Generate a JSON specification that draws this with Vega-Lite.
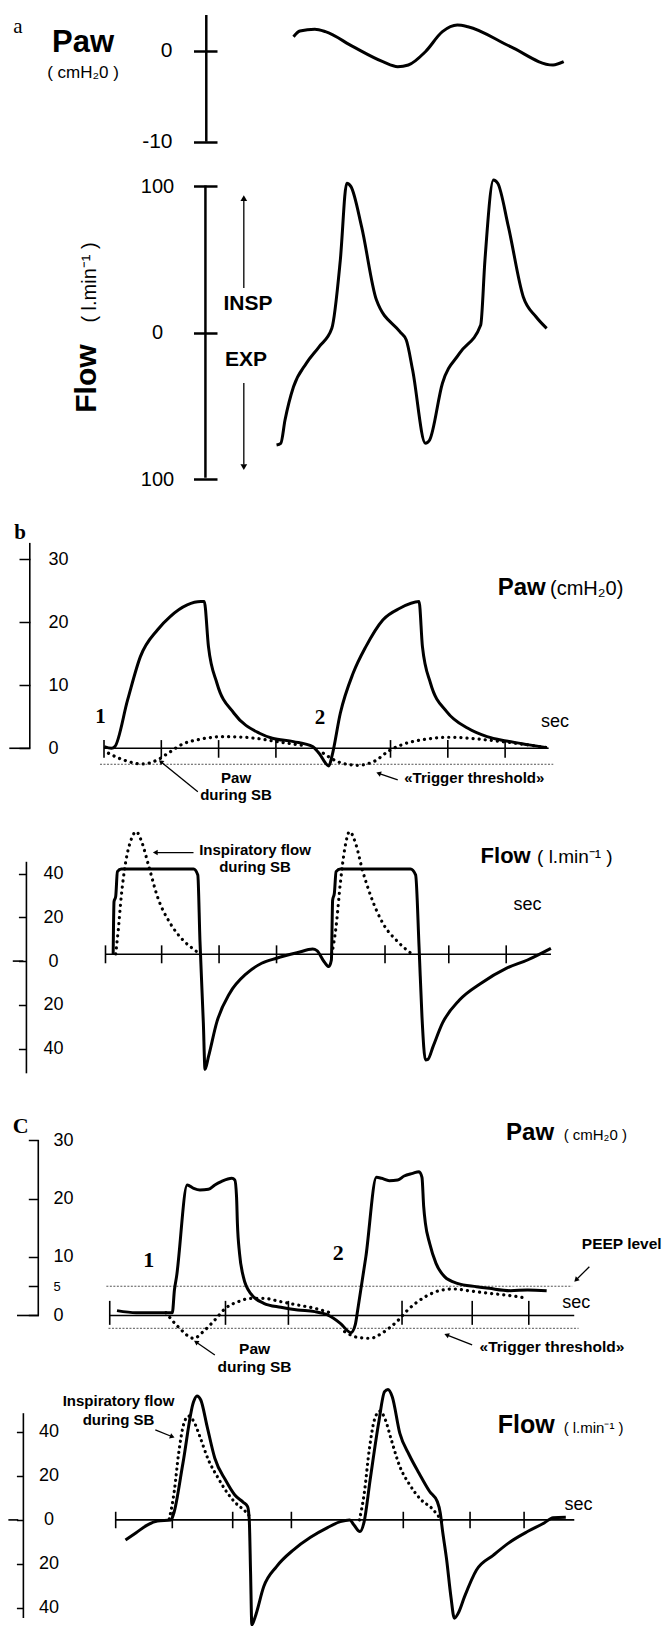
{
"$schema": "https://vega.github.io/schema/vega-lite/v6.json",
"background": "white",
"padding": 0,
"spacing": 0,
"bounds": "flush",
"resolve": {"scale": {"x": "independent", "y": "independent"}},
"config": {
 "view": {"stroke": null},
 "font": "Liberation Sans",
 "axis": {"domain": false, "grid": false, "ticks": true, "tickColor": "black", "labelColor": "black", "labelFont": "Liberation Sans", "labelOverlap": false, "labelFlush": false, "labelBound": false, "labelBaseline": "middle"},
 "text": {"color": "black", "font": "Liberation Sans"}
},
"datasets": {
"c": [
{"p":"a1","s":"s","g":1,"t":3.307,"v":1.54},{"p":"a1","s":"s","g":1,"t":3.419,"v":2.16},{"p":"a1","s":"s","g":1,"t":3.679,"v":2.35},{"p":"a1","s":"s","g":1,"t":3.864,"v":2.09},{"p":"a1","s":"s","g":1,"t":4.347,"v":0.44},{"p":"a1","s":"s","g":1,"t":4.866,"v":-1.21},{"p":"a1","s":"s","g":1,"t":5.126,"v":-1.76},{"p":"a1","s":"s","g":1,"t":5.312,"v":-1.57},{"p":"a1","s":"s","g":1,"t":5.609,"v":-0.11},{"p":"a1","s":"s","g":1,"t":5.906,"v":2.09},{"p":"a1","s":"s","g":1,"t":6.166,"v":2.82},{"p":"a1","s":"s","g":1,"t":6.351,"v":2.64},{"p":"a1","s":"s","g":1,"t":7.094,"v":0.44},{"p":"a1","s":"s","g":1,"t":7.836,"v":-1.57},{"p":"a1","s":"s","g":1,"t":8.022,"v":-1.21},
{"p":"a2","s":"s","g":1,"t":3.011,"v":-76.7},{"p":"a2","s":"s","g":1,"t":3.085,"v":-75.5},{"p":"a2","s":"s","g":1,"t":3.159,"v":-59.6},{"p":"a2","s":"s","g":1,"t":3.307,"v":-36.9},{"p":"a2","s":"s","g":1,"t":3.53,"v":-20.9},{"p":"a2","s":"s","g":1,"t":3.753,"v":-9.6},{"p":"a2","s":"s","g":1,"t":3.976,"v":3.0},{"p":"a2","s":"s","g":1,"t":4.124,"v":49.6},{"p":"a2","s":"s","g":1,"t":4.236,"v":102},{"p":"a2","s":"s","g":1,"t":4.31,"v":99.7},{"p":"a2","s":"s","g":1,"t":4.495,"v":72.4},{"p":"a2","s":"s","g":1,"t":4.755,"v":22.3},{"p":"a2","s":"s","g":1,"t":5.163,"v":0.7},{"p":"a2","s":"s","g":1,"t":5.275,"v":-5.0},{"p":"a2","s":"s","g":1,"t":5.386,"v":-25.5},{"p":"a2","s":"s","g":1,"t":5.609,"v":-75.5},{"p":"a2","s":"s","g":1,"t":5.683,"v":-73.2},{"p":"a2","s":"s","g":1,"t":5.906,"v":-34.5},{"p":"a2","s":"s","g":1,"t":6.203,"v":-14.1},{"p":"a2","s":"s","g":1,"t":6.574,"v":5.3},{"p":"a2","s":"s","g":1,"t":6.648,"v":49.6},{"p":"a2","s":"s","g":1,"t":6.797,"v":104.2},{"p":"a2","s":"s","g":1,"t":6.871,"v":102},{"p":"a2","s":"s","g":1,"t":7.057,"v":72.4},{"p":"a2","s":"s","g":1,"t":7.316,"v":24.6},{"p":"a2","s":"s","g":1,"t":7.539,"v":10.9},{"p":"a2","s":"s","g":1,"t":7.725,"v":3.0},
{"p":"b1","s":"s","g":1,"t":0.004,"v":0.26},{"p":"b1","s":"s","g":1,"t":0.13,"v":0},{"p":"b1","s":"s","g":1,"t":0.189,"v":0.26},{"p":"b1","s":"s","g":1,"t":0.412,"v":7.67},{"p":"b1","s":"s","g":1,"t":0.635,"v":14.55},{"p":"b1","s":"s","g":1,"t":0.932,"v":18.78},{"p":"b1","s":"s","g":1,"t":1.155,"v":20.9},{"p":"b1","s":"s","g":1,"t":1.452,"v":22.75},{"p":"b1","s":"s","g":1,"t":1.689,"v":23.28},{"p":"b1","s":"s","g":1,"t":1.749,"v":23.28},{"p":"b1","s":"s","g":1,"t":1.823,"v":16.14},{"p":"b1","s":"s","g":1,"t":1.971,"v":10.32},{"p":"b1","s":"s","g":1,"t":2.268,"v":5.56},{"p":"b1","s":"s","g":1,"t":2.714,"v":2.38},{"p":"b1","s":"s","g":1,"t":2.936,"v":1.59},{"p":"b1","s":"s","g":1,"t":3.307,"v":1.06},{"p":"b1","s":"s","g":1,"t":3.642,"v":0.26},{"p":"b1","s":"s","g":1,"t":3.753,"v":-0.79},{"p":"b1","s":"s","g":1,"t":3.924,"v":-2.8},{"p":"b1","s":"s","g":1,"t":3.976,"v":-1.32},{"p":"b1","s":"s","g":1,"t":4.124,"v":5.56},{"p":"b1","s":"s","g":1,"t":4.347,"v":11.9},{"p":"b1","s":"s","g":1,"t":4.57,"v":16.14},{"p":"b1","s":"s","g":1,"t":4.866,"v":20.37},{"p":"b1","s":"s","g":1,"t":5.163,"v":22.22},{"p":"b1","s":"s","g":1,"t":5.498,"v":23.28},{"p":"b1","s":"s","g":1,"t":5.557,"v":16.14},{"p":"b1","s":"s","g":1,"t":5.698,"v":10.32},{"p":"b1","s":"s","g":1,"t":5.98,"v":5.82},{"p":"b1","s":"s","g":1,"t":6.351,"v":3.17},{"p":"b1","s":"s","g":1,"t":6.685,"v":1.85},{"p":"b1","s":"s","g":1,"t":7.019,"v":1.16},{"p":"b1","s":"s","g":1,"t":7.391,"v":0.58},{"p":"b1","s":"s","g":1,"t":7.725,"v":0.11},
{"p":"b1","s":"d","g":1,"t":0.078,"v":-0.79},{"p":"b1","s":"d","g":1,"t":0.338,"v":-1.85},{"p":"b1","s":"d","g":1,"t":0.672,"v":-2.49},{"p":"b1","s":"d","g":1,"t":0.932,"v":-1.85},{"p":"b1","s":"d","g":1,"t":1.117,"v":-0.79},{"p":"b1","s":"d","g":1,"t":1.377,"v":0.69},{"p":"b1","s":"d","g":1,"t":1.674,"v":1.43},{"p":"b1","s":"d","g":1,"t":2.12,"v":1.85},{"p":"b1","s":"d","g":1,"t":2.639,"v":1.59},{"p":"b1","s":"d","g":1,"t":3.011,"v":1.06},{"p":"b1","s":"d","g":1,"t":3.53,"v":0.37},
{"p":"b1","s":"d","g":2,"t":3.827,"v":-0.79},{"p":"b1","s":"d","g":2,"t":4.124,"v":-2.28},{"p":"b1","s":"d","g":2,"t":4.421,"v":-2.7},{"p":"b1","s":"d","g":2,"t":4.718,"v":-2.06},{"p":"b1","s":"d","g":2,"t":4.978,"v":-0.37},{"p":"b1","s":"d","g":2,"t":5.238,"v":0.69},{"p":"b1","s":"d","g":2,"t":5.609,"v":1.43},{"p":"b1","s":"d","g":2,"t":6.054,"v":1.75},{"p":"b1","s":"d","g":2,"t":6.5,"v":1.48},{"p":"b1","s":"d","g":2,"t":6.945,"v":1.06},{"p":"b1","s":"d","g":2,"t":7.725,"v":0.11},
{"p":"b2","s":"s","g":1,"t":0.16,"v":3.09},{"p":"b2","s":"s","g":1,"t":0.175,"v":27.2},{"p":"b2","s":"s","g":1,"t":0.204,"v":29.5},{"p":"b2","s":"s","g":1,"t":0.234,"v":40.9},{"p":"b2","s":"s","g":1,"t":0.301,"v":42.1},{"p":"b2","s":"s","g":1,"t":1.563,"v":42.1},{"p":"b2","s":"s","g":1,"t":1.637,"v":39.4},{"p":"b2","s":"s","g":1,"t":1.674,"v":9.6},{"p":"b2","s":"s","g":1,"t":1.734,"v":-28.5},{"p":"b2","s":"s","g":1,"t":1.763,"v":-49.5},{"p":"b2","s":"s","g":1,"t":1.823,"v":-43.7},{"p":"b2","s":"s","g":1,"t":1.971,"v":-27.7},{"p":"b2","s":"s","g":1,"t":2.194,"v":-14.7},{"p":"b2","s":"s","g":1,"t":2.491,"v":-5.6},{"p":"b2","s":"s","g":1,"t":2.751,"v":-1.0},{"p":"b2","s":"s","g":1,"t":3.011,"v":1.3},{"p":"b2","s":"s","g":1,"t":3.382,"v":3.9},{"p":"b2","s":"s","g":1,"t":3.642,"v":5.5},{"p":"b2","s":"s","g":1,"t":3.716,"v":4.8},{"p":"b2","s":"s","g":1,"t":3.842,"v":-0.3},{"p":"b2","s":"s","g":1,"t":3.924,"v":-2.5},{"p":"b2","s":"s","g":1,"t":3.968,"v":0.5},{"p":"b2","s":"s","g":1,"t":3.99,"v":27.9},{"p":"b2","s":"s","g":1,"t":4.02,"v":31.0},{"p":"b2","s":"s","g":1,"t":4.05,"v":40.9},{"p":"b2","s":"s","g":1,"t":4.124,"v":42.1},{"p":"b2","s":"s","g":1,"t":5.349,"v":42.1},{"p":"b2","s":"s","g":1,"t":5.438,"v":39.4},{"p":"b2","s":"s","g":1,"t":5.498,"v":6.6},{"p":"b2","s":"s","g":1,"t":5.549,"v":-25.4},{"p":"b2","s":"s","g":1,"t":5.609,"v":-45.2},{"p":"b2","s":"s","g":1,"t":5.653,"v":-44.9},{"p":"b2","s":"s","g":1,"t":5.742,"v":-39.1},{"p":"b2","s":"s","g":1,"t":5.906,"v":-28.4},{"p":"b2","s":"s","g":1,"t":6.203,"v":-17.8},{"p":"b2","s":"s","g":1,"t":6.574,"v":-10.2},{"p":"b2","s":"s","g":1,"t":7.019,"v":-3.3},{"p":"b2","s":"s","g":1,"t":7.391,"v":0.5},{"p":"b2","s":"s","g":1,"t":7.799,"v":5.8},
{"p":"b2","s":"d","g":1,"t":0.204,"v":3.25},{"p":"b2","s":"d","g":1,"t":0.249,"v":14.2},{"p":"b2","s":"d","g":1,"t":0.301,"v":29.5},{"p":"b2","s":"d","g":1,"t":0.375,"v":44.7},{"p":"b2","s":"d","g":1,"t":0.472,"v":55.4},{"p":"b2","s":"d","g":1,"t":0.561,"v":59.2},{"p":"b2","s":"d","g":1,"t":0.657,"v":54.6},{"p":"b2","s":"d","g":1,"t":0.783,"v":43.2},{"p":"b2","s":"d","g":1,"t":0.932,"v":29.5},{"p":"b2","s":"d","g":1,"t":1.155,"v":17.3},{"p":"b2","s":"d","g":1,"t":1.377,"v":9.65},{"p":"b2","s":"d","g":1,"t":1.563,"v":5.4},{"p":"b2","s":"d","g":1,"t":1.674,"v":3.25},
{"p":"b2","s":"d","g":2,"t":3.976,"v":3.25},{"p":"b2","s":"d","g":2,"t":4.05,"v":15.7},{"p":"b2","s":"d","g":2,"t":4.124,"v":35.5},{"p":"b2","s":"d","g":2,"t":4.198,"v":50.8},{"p":"b2","s":"d","g":2,"t":4.287,"v":59.2},{"p":"b2","s":"d","g":2,"t":4.391,"v":53.8},{"p":"b2","s":"d","g":2,"t":4.51,"v":41.6},{"p":"b2","s":"d","g":2,"t":4.659,"v":29.5},{"p":"b2","s":"d","g":2,"t":4.866,"v":17.3},{"p":"b2","s":"d","g":2,"t":5.126,"v":8.9},{"p":"b2","s":"d","g":2,"t":5.371,"v":3.25},
{"p":"c1","s":"s","g":1,"t":0.227,"v":0.83},{"p":"c1","s":"s","g":1,"t":0.561,"v":0.48},{"p":"c1","s":"s","g":1,"t":1.192,"v":0.48},{"p":"c1","s":"s","g":1,"t":1.229,"v":4.36},{"p":"c1","s":"s","g":1,"t":1.266,"v":6.64},{"p":"c1","s":"s","g":1,"t":1.452,"v":22.31},{"p":"c1","s":"s","g":1,"t":1.563,"v":21.74},{"p":"c1","s":"s","g":1,"t":1.674,"v":21.45},{"p":"c1","s":"s","g":1,"t":1.823,"v":21.57},{"p":"c1","s":"s","g":1,"t":1.934,"v":22.31},{"p":"c1","s":"s","g":1,"t":2.045,"v":22.88},{"p":"c1","s":"s","g":1,"t":2.231,"v":23.45},{"p":"c1","s":"s","g":1,"t":2.283,"v":23.16},{"p":"c1","s":"s","g":1,"t":2.313,"v":20.31},{"p":"c1","s":"s","g":1,"t":2.328,"v":15.75},{"p":"c1","s":"s","g":1,"t":2.365,"v":10.63},{"p":"c1","s":"s","g":1,"t":2.431,"v":6.64},{"p":"c1","s":"s","g":1,"t":2.565,"v":3.68},{"p":"c1","s":"s","g":1,"t":2.788,"v":2.08},{"p":"c1","s":"s","g":1,"t":3.085,"v":1.4},{"p":"c1","s":"s","g":1,"t":3.382,"v":0.94},{"p":"c1","s":"s","g":1,"t":3.679,"v":0.66},{"p":"c1","s":"s","g":1,"t":3.901,"v":0.09},{"p":"c1","s":"s","g":1,"t":4.124,"v":-1.34},{"p":"c1","s":"s","g":1,"t":4.31,"v":-2.93},{"p":"c1","s":"s","g":1,"t":4.384,"v":-1.62},{"p":"c1","s":"s","g":1,"t":4.436,"v":1.51},{"p":"c1","s":"s","g":1,"t":4.57,"v":10.06},{"p":"c1","s":"s","g":1,"t":4.755,"v":23.62},{"p":"c1","s":"s","g":1,"t":4.844,"v":23.45},{"p":"c1","s":"s","g":1,"t":4.978,"v":23.05},{"p":"c1","s":"s","g":1,"t":5.126,"v":23.16},{"p":"c1","s":"s","g":1,"t":5.238,"v":23.85},{"p":"c1","s":"s","g":1,"t":5.386,"v":24.3},{"p":"c1","s":"s","g":1,"t":5.498,"v":24.59},{"p":"c1","s":"s","g":1,"t":5.549,"v":23.62},{"p":"c1","s":"s","g":1,"t":5.579,"v":18.6},{"p":"c1","s":"s","g":1,"t":5.609,"v":15.75},{"p":"c1","s":"s","g":1,"t":5.683,"v":12.34},{"p":"c1","s":"s","g":1,"t":5.794,"v":8.92},{"p":"c1","s":"s","g":1,"t":5.943,"v":6.64},{"p":"c1","s":"s","g":1,"t":6.166,"v":5.5},{"p":"c1","s":"s","g":1,"t":6.5,"v":4.93},{"p":"c1","s":"s","g":1,"t":6.722,"v":4.64},{"p":"c1","s":"s","g":1,"t":7.094,"v":4.25},{"p":"c1","s":"s","g":1,"t":7.391,"v":4.36},{"p":"c1","s":"s","g":1,"t":7.725,"v":4.25},
{"p":"c1","s":"d","g":1,"t":1.08,"v":0.48},{"p":"c1","s":"d","g":1,"t":1.303,"v":-2.02},{"p":"c1","s":"d","g":1,"t":1.563,"v":-3.9},{"p":"c1","s":"d","g":1,"t":1.749,"v":-2.59},{"p":"c1","s":"d","g":1,"t":1.934,"v":-0.77},{"p":"c1","s":"d","g":1,"t":2.12,"v":1.23},{"p":"c1","s":"d","g":1,"t":2.342,"v":2.36},{"p":"c1","s":"d","g":1,"t":2.565,"v":2.93},{"p":"c1","s":"d","g":1,"t":2.788,"v":2.93},{"p":"c1","s":"d","g":1,"t":3.085,"v":2.36},{"p":"c1","s":"d","g":1,"t":3.382,"v":1.79},{"p":"c1","s":"d","g":1,"t":3.679,"v":1.23},{"p":"c1","s":"d","g":1,"t":3.939,"v":0.48},
{"p":"c1","s":"d","g":2,"t":4.199,"v":-2.76},{"p":"c1","s":"d","g":2,"t":4.421,"v":-3.73},{"p":"c1","s":"d","g":2,"t":4.644,"v":-3.9},{"p":"c1","s":"d","g":2,"t":4.866,"v":-2.93},{"p":"c1","s":"d","g":2,"t":5.126,"v":-0.88},{"p":"c1","s":"d","g":2,"t":5.312,"v":1.05},{"p":"c1","s":"d","g":2,"t":5.609,"v":3.22},{"p":"c1","s":"d","g":2,"t":5.906,"v":4.36},{"p":"c1","s":"d","g":2,"t":6.129,"v":4.53},{"p":"c1","s":"d","g":2,"t":6.351,"v":4.25},{"p":"c1","s":"d","g":2,"t":6.722,"v":3.79},{"p":"c1","s":"d","g":2,"t":7.094,"v":3.39},{"p":"c1","s":"d","g":2,"t":7.391,"v":2.93},
{"p":"c2","s":"s","g":1,"t":0.375,"v":-9.14},{"p":"c2","s":"s","g":1,"t":0.561,"v":-5.8},{"p":"c2","s":"s","g":1,"t":0.746,"v":-2.47},{"p":"c2","s":"s","g":1,"t":0.932,"v":-0.5},{"p":"c2","s":"s","g":1,"t":1.169,"v":-0.05},{"p":"c2","s":"s","g":1,"t":1.214,"v":2.7},{"p":"c2","s":"s","g":1,"t":1.377,"v":25.7},{"p":"c2","s":"s","g":1,"t":1.563,"v":53.7},{"p":"c2","s":"s","g":1,"t":1.622,"v":56.3},{"p":"c2","s":"s","g":1,"t":1.689,"v":54.5},{"p":"c2","s":"s","g":1,"t":1.8,"v":42.4},{"p":"c2","s":"s","g":1,"t":1.934,"v":28.0},{"p":"c2","s":"s","g":1,"t":2.12,"v":18.1},{"p":"c2","s":"s","g":1,"t":2.283,"v":11.3},{"p":"c2","s":"s","g":1,"t":2.431,"v":8.0},{"p":"c2","s":"s","g":1,"t":2.506,"v":6.0},{"p":"c2","s":"s","g":1,"t":2.535,"v":0},{"p":"c2","s":"s","g":1,"t":2.558,"v":-24.2},{"p":"c2","s":"s","g":1,"t":2.58,"v":-47.7},{"p":"c2","s":"s","g":1,"t":2.639,"v":-44.0},{"p":"c2","s":"s","g":1,"t":2.788,"v":-30.3},{"p":"c2","s":"s","g":1,"t":3.011,"v":-21.2},{"p":"c2","s":"s","g":1,"t":3.307,"v":-13.6},{"p":"c2","s":"s","g":1,"t":3.604,"v":-7.9},{"p":"c2","s":"s","g":1,"t":3.901,"v":-3.5},{"p":"c2","s":"s","g":1,"t":4.124,"v":-0.8},{"p":"c2","s":"s","g":1,"t":4.287,"v":0},{"p":"c2","s":"s","g":1,"t":4.362,"v":-2.3},{"p":"c2","s":"s","g":1,"t":4.466,"v":-5.3},{"p":"c2","s":"s","g":1,"t":4.54,"v":-0.8},{"p":"c2","s":"s","g":1,"t":4.644,"v":18.1},{"p":"c2","s":"s","g":1,"t":4.792,"v":43.9},{"p":"c2","s":"s","g":1,"t":4.896,"v":58.3},{"p":"c2","s":"s","g":1,"t":4.956,"v":59.3},{"p":"c2","s":"s","g":1,"t":5.03,"v":56.0},{"p":"c2","s":"s","g":1,"t":5.163,"v":39.3},{"p":"c2","s":"s","g":1,"t":5.327,"v":29.5},{"p":"c2","s":"s","g":1,"t":5.498,"v":21.2},{"p":"c2","s":"s","g":1,"t":5.683,"v":12.9},{"p":"c2","s":"s","g":1,"t":5.817,"v":8.3},{"p":"c2","s":"s","g":1,"t":5.869,"v":3.0},{"p":"c2","s":"s","g":1,"t":5.906,"v":-4.6},{"p":"c2","s":"s","g":1,"t":5.98,"v":-18.2},{"p":"c2","s":"s","g":1,"t":6.054,"v":-34.9},{"p":"c2","s":"s","g":1,"t":6.114,"v":-44.7},{"p":"c2","s":"s","g":1,"t":6.188,"v":-42.1},{"p":"c2","s":"s","g":1,"t":6.292,"v":-34.9},{"p":"c2","s":"s","g":1,"t":6.5,"v":-22.8},{"p":"c2","s":"s","g":1,"t":6.797,"v":-16.0},{"p":"c2","s":"s","g":1,"t":7.094,"v":-9.9},{"p":"c2","s":"s","g":1,"t":7.391,"v":-5.3},{"p":"c2","s":"s","g":1,"t":7.688,"v":-1.3},{"p":"c2","s":"s","g":1,"t":7.836,"v":1.0},{"p":"c2","s":"s","g":1,"t":8.059,"v":1.2},
{"p":"c2","s":"d","g":1,"t":1.14,"v":0.4},{"p":"c2","s":"d","g":1,"t":1.229,"v":13.6},{"p":"c2","s":"d","g":1,"t":1.303,"v":30.3},{"p":"c2","s":"d","g":1,"t":1.392,"v":43.6},{"p":"c2","s":"d","g":1,"t":1.474,"v":47.2},{"p":"c2","s":"d","g":1,"t":1.57,"v":44.6},{"p":"c2","s":"d","g":1,"t":1.674,"v":37.8},{"p":"c2","s":"d","g":1,"t":1.823,"v":27.2},{"p":"c2","s":"d","g":1,"t":1.986,"v":19.3},{"p":"c2","s":"d","g":1,"t":2.157,"v":12.1},{"p":"c2","s":"d","g":1,"t":2.305,"v":7.5},{"p":"c2","s":"d","g":1,"t":2.454,"v":4.2},{"p":"c2","s":"d","g":1,"t":2.58,"v":0.4},
{"p":"c2","s":"d","g":2,"t":4.458,"v":0},{"p":"c2","s":"d","g":2,"t":4.54,"v":11.8},{"p":"c2","s":"d","g":2,"t":4.629,"v":31.8},{"p":"c2","s":"d","g":2,"t":4.718,"v":45.4},{"p":"c2","s":"d","g":2,"t":4.815,"v":49.5},{"p":"c2","s":"d","g":2,"t":4.911,"v":45.4},{"p":"c2","s":"d","g":2,"t":5.015,"v":36.3},{"p":"c2","s":"d","g":2,"t":5.163,"v":24.2},{"p":"c2","s":"d","g":2,"t":5.327,"v":16.3},{"p":"c2","s":"d","g":2,"t":5.535,"v":9.1},{"p":"c2","s":"d","g":2,"t":5.72,"v":5.3},{"p":"c2","s":"d","g":2,"t":5.906,"v":-0.8}
],
"r": [
{"p":"a1","k":"ax","t":1.785,"t2":1.785,"v":3.92,"v2":-10},
{"p":"a2","k":"ax","t":1.77,"t2":1.77,"v":100.5,"v2":-99},
{"p":"a2","k":"ar","t":2.44,"t2":2.44,"v":30.5,"v2":90},
{"p":"a2","k":"ar","t":2.44,"t2":2.44,"v":-34.3,"v2":-90},
{"p":"b1","k":"ax","t":-1.295,"t2":-1.295,"v":32.6,"v2":0},
{"p":"b1","k":"ax","t":-1.653,"t2":-1.291,"v":0,"v2":0},
{"p":"b1","k":"bs","t":0,"t2":7.76,"v":0,"v2":0},
{"p":"b1","k":"bs","t":0,"t2":0,"v":1.3,"v2":-1.5},{"p":"b1","k":"bs","t":1,"t2":1,"v":1.3,"v2":-1.5},{"p":"b1","k":"bs","t":2,"t2":2,"v":1.3,"v2":-1.5},{"p":"b1","k":"bs","t":3,"t2":3,"v":1.3,"v2":-1.5},{"p":"b1","k":"bs","t":5,"t2":5,"v":1.3,"v2":-1.5},{"p":"b1","k":"bs","t":6,"t2":6,"v":1.3,"v2":-1.5},{"p":"b1","k":"bs","t":7,"t2":7,"v":1.3,"v2":-1.5},
{"p":"b1","k":"th","t":-0.07,"t2":7.84,"v":-2.54,"v2":-2.54},
{"p":"b1","k":"ar","t":1.637,"t2":0.991,"v":-6.89,"v2":-2.13},
{"p":"b1","k":"ar","t":5.126,"t2":4.792,"v":-5.03,"v2":-3.97},
{"p":"b2","k":"ax","t":-1.354,"t2":-1.354,"v":45.4,"v2":-51.3},
{"p":"b2","k":"ax","t":-1.592,"t2":-1.407,"v":0,"v2":0},
{"p":"b2","k":"bs","t":0.026,"t2":7.8,"v":3.11,"v2":3.11},
{"p":"b2","k":"bs","t":0.026,"t2":0.026,"v":7.2,"v2":-1.0},{"p":"b2","k":"bs","t":1.006,"t2":1.006,"v":7.2,"v2":-1.0},{"p":"b2","k":"bs","t":2.008,"t2":2.008,"v":7.2,"v2":-1.0},{"p":"b2","k":"bs","t":3.011,"t2":3.011,"v":7.2,"v2":-1.0},{"p":"b2","k":"bs","t":4.904,"t2":4.904,"v":7.2,"v2":-1.0},{"p":"b2","k":"bs","t":6.017,"t2":6.017,"v":7.2,"v2":-1.0},{"p":"b2","k":"bs","t":7.019,"t2":7.019,"v":7.2,"v2":-1.0},
{"p":"b2","k":"ar","t":1.562,"t2":0.895,"v":49.6,"v2":49.6},
{"p":"c1","k":"ax","t":-1.147,"t2":-1.147,"v":30,"v2":0},
{"p":"c1","k":"ax","t":-1.518,"t2":-1.134,"v":0,"v2":0},
{"p":"c1","k":"bs","t":0.1,"t2":8.206,"v":0,"v2":0},
{"p":"c1","k":"bs","t":0.1,"t2":0.1,"v":2.5,"v2":-1.6},{"p":"c1","k":"bs","t":2.12,"t2":2.12,"v":2.5,"v2":-1.6},{"p":"c1","k":"bs","t":3.218,"t2":3.218,"v":2.5,"v2":-1.6},{"p":"c1","k":"bs","t":5.201,"t2":5.201,"v":2.5,"v2":-1.6},{"p":"c1","k":"bs","t":6.426,"t2":6.426,"v":2.5,"v2":-1.6},{"p":"c1","k":"bs","t":7.413,"t2":7.413,"v":2.5,"v2":-1.6},
{"p":"c1","k":"th","t":0.041,"t2":8.17,"v":5,"v2":5},
{"p":"c1","k":"th","t":0.078,"t2":8.282,"v":-2.19,"v2":-2.19},
{"p":"c1","k":"ar","t":1.934,"t2":1.606,"v":-6.75,"v2":-4.53},
{"p":"c1","k":"ar","t":6.424,"t2":5.979,"v":-5.04,"v2":-3.33},
{"p":"c1","k":"ar","t":8.47,"t2":8.237,"v":8.34,"v2":6.07},
{"p":"c2","k":"ax","t":-1.407,"t2":-1.407,"v":48.5,"v2":-44.6},
{"p":"c2","k":"ax","t":-1.669,"t2":-1.496,"v":0,"v2":0},
{"p":"c2","k":"bs","t":0.204,"t2":8.207,"v":0,"v2":0},
{"p":"c2","k":"bs","t":0.204,"t2":0.204,"v":3.7,"v2":-3.8},{"p":"c2","k":"bs","t":1.192,"t2":1.192,"v":3.7,"v2":-3.8},{"p":"c2","k":"bs","t":2.246,"t2":2.246,"v":3.7,"v2":-3.8},{"p":"c2","k":"bs","t":3.27,"t2":3.27,"v":3.7,"v2":-3.8},{"p":"c2","k":"bs","t":5.223,"t2":5.223,"v":3.7,"v2":-3.8},{"p":"c2","k":"bs","t":6.388,"t2":6.388,"v":3.7,"v2":-3.8},{"p":"c2","k":"bs","t":7.331,"t2":7.331,"v":3.7,"v2":-3.8},
{"p":"c2","k":"ar","t":0.895,"t2":1.192,"v":40.9,"v2":37.8}
],
"h": [
{"p":"a2","t":2.44,"v":91.9,"d":0},{"p":"a2","t":2.44,"v":-91.7,"d":180},
{"p":"b1","t":0.991,"v":-2.13,"d":309},{"p":"b1","t":4.792,"v":-3.97,"d":289.5},
{"p":"b2","t":0.895,"v":49.6,"d":270},
{"p":"c1","t":1.606,"v":-4.53,"d":304},{"p":"c1","t":5.979,"v":-3.33,"d":291},{"p":"c1","t":8.237,"v":6.07,"d":225},
{"p":"c2","t":1.192,"v":37.8,"d":111.5}
],
"x": [
{"p":"a1","k":"ser","t":-1.503,"v":2.64,"l":"a"},
{"p":"a1","k":"tit","t":-0.366,"v":-0.11,"l":"Paw"},
{"p":"a1","k":"uni","t":-0.366,"v":-2.45,"l":"( cmH₂0 )"},
{"p":"a2","k":"vt","t":-0.14,"v":-31.3,"l":"Flow"},
{"p":"a2","k":"vu","t":-0.14,"v":34.3,"l":"( l.min⁻¹ )"},
{"p":"a2","k":"big","t":2.513,"v":19.6,"l":"INSP"},
{"p":"a2","k":"big","t":2.478,"v":-18.6,"l":"EXP"},
{"p":"b1","k":"ser","t":-1.466,"v":34.2,"l":"b"},
{"p":"b1","k":"ser","t":-0.061,"v":4.97,"l":"1"},
{"p":"b1","k":"ser","t":3.768,"v":4.76,"l":"2"},
{"p":"b1","k":"tit","t":6.87,"v":24.3,"l":"Paw"},
{"p":"b1","k":"uni","t":7.784,"v":24.3,"l":"(cmH₂0)"},
{"p":"b1","k":"ann","t":2.304,"v":-4.76,"l":"Paw"},
{"p":"b1","k":"ann","t":2.304,"v":-7.41,"l":"during SB"},
{"p":"b1","k":"ann","t":6.462,"v":-4.76,"l":"«Trigger threshold»"},
{"p":"b1","k":"sec","t":7.87,"v":4.22,"l":"sec"},
{"p":"b2","k":"tit","t":6.572,"v":44.7,"l":"Flow"},
{"p":"b2","k":"uni","t":7.557,"v":44.7,"l":"( l.min⁻¹ )"},
{"p":"b2","k":"ann","t":2.635,"v":50.8,"l":"Inspiratory flow"},
{"p":"b2","k":"ann","t":2.635,"v":43.2,"l":"during SB"},
{"p":"b2","k":"sec","t":7.389,"v":25.6,"l":"sec"},
{"p":"c1","k":"ser","t":-1.452,"v":32.4,"l":"C"},
{"p":"c1","k":"ser","t":0.783,"v":9.49,"l":"1"},
{"p":"c1","k":"ser","t":4.087,"v":10.63,"l":"2"},
{"p":"c1","k":"tit","t":7.016,"v":30.0,"l":"Paw"},
{"p":"c1","k":"uni","t":8.021,"v":30.0,"l":"( cmH₂0 )"},
{"p":"c1","k":"ann","t":9.035,"v":12.2,"l":"PEEP level"},
{"p":"c1","k":"ann","t":2.627,"v":-5.78,"l":"Paw"},
{"p":"c1","k":"ann","t":2.627,"v":-8.75,"l":"during SB"},
{"p":"c1","k":"ann","t":7.817,"v":-5.33,"l":"«Trigger threshold»"},
{"p":"c1","k":"sec","t":8.243,"v":2.08,"l":"sec"},
{"p":"c2","k":"tit","t":6.871,"v":39.6,"l":"Flow"},
{"p":"c2","k":"uni","t":8.021,"v":39.6,"l":"( l.min⁻¹ )"},
{"p":"c2","k":"ann","t":0.253,"v":54.0,"l":"Inspiratory flow"},
{"p":"c2","k":"ann","t":0.253,"v":45.4,"l":"during SB"},
{"p":"c2","k":"sec","t":8.281,"v":6.77,"l":"sec"}
]
},
"vconcat": [
{
 "width": 667, "height": 160,
 "encoding": {
  "x": {"field": "t", "type": "quantitative", "scale": {"domain": [-1.815, 9.825], "nice": false, "zero": false}, "axis": null},
  "y": {"field": "v", "type": "quantitative", "scale": {"domain": [-12.011, 5.571], "nice": false, "zero": false},
        "axis": {"title": null, "values": [0, -10], "labelExpr": "datum.value < 0 ? '-' + abs(datum.value) : '' + datum.value", "offset": -217, "tickSize": 23.5, "tickWidth": 2.5, "labelPadding": 21.5, "labelAlign": "right", "labelFontSize": 21}}
 },
 "layer": [
  {"data": {"name": "r"}, "transform": [{"filter": "datum.p=='a1'"}], "mark": {"type": "rule", "strokeWidth": 2.5, "color": "black"}, "encoding": {"x2": {"field": "t2"}, "y2": {"field": "v2"}}},
  {"data": {"name": "c"}, "transform": [{"filter": "datum.p=='a1'"}], "mark": {"type": "line", "interpolate": "monotone", "strokeWidth": 3, "color": "black"}, "encoding": {"detail": {"field": "g", "type": "nominal"}}},
  {"data": {"name": "x"}, "transform": [{"filter": "datum.p=='a1' && datum.k=='ser'"}], "mark": {"type": "text", "font": "Liberation Serif", "fontSize": 21, "align": "center", "baseline": "middle"}, "encoding": {"text": {"field": "l"}}},
  {"data": {"name": "x"}, "transform": [{"filter": "datum.p=='a1' && datum.k=='tit'"}], "mark": {"type": "text", "fontSize": 31, "fontWeight": "bold", "align": "center", "baseline": "alphabetic"}, "encoding": {"text": {"field": "l"}}},
  {"data": {"name": "x"}, "transform": [{"filter": "datum.p=='a1' && datum.k=='uni'"}], "mark": {"type": "text", "fontSize": 17, "align": "center", "baseline": "middle"}, "encoding": {"text": {"field": "l"}}}
 ]
},
{
 "width": 667, "height": 340,
 "encoding": {
  "x": {"field": "t", "type": "quantitative", "scale": {"domain": [-1.815, 9.825], "nice": false, "zero": false}, "axis": null},
  "y": {"field": "v", "type": "quantitative", "scale": {"domain": [-114.2, 117.9], "nice": false, "zero": false},
        "axis": {"title": null, "values": [100, 0, -100], "labelExpr": "abs(datum.value)", "offset": -217, "tickSize": 23.5, "tickWidth": 2.5, "labelPadding": 36.5, "labelAlign": "center", "labelFontSize": 20}}
 },
 "layer": [
  {"data": {"name": "r"}, "transform": [{"filter": "datum.p=='a2' && datum.k=='ax'"}], "mark": {"type": "rule", "strokeWidth": 2.5, "color": "black"}, "encoding": {"x2": {"field": "t2"}, "y2": {"field": "v2"}}},
  {"data": {"name": "r"}, "transform": [{"filter": "datum.p=='a2' && datum.k=='ar'"}], "mark": {"type": "rule", "strokeWidth": 1.3, "color": "black"}, "encoding": {"x2": {"field": "t2"}, "y2": {"field": "v2"}}},
  {"data": {"name": "h"}, "transform": [{"filter": "datum.p=='a2'"}], "mark": {"type": "point", "shape": "triangle-up", "filled": true, "size": 45, "color": "black", "opacity": 1}, "encoding": {"angle": {"field": "d", "type": "quantitative", "scale": null}}},
  {"data": {"name": "c"}, "transform": [{"filter": "datum.p=='a2'"}], "mark": {"type": "line", "interpolate": "monotone", "strokeWidth": 3, "color": "black"}, "encoding": {"detail": {"field": "g", "type": "nominal"}}},
  {"data": {"name": "x"}, "transform": [{"filter": "datum.p=='a2' && datum.k=='vt'"}], "mark": {"type": "text", "fontSize": 30, "fontWeight": "bold", "angle": 270, "align": "center", "baseline": "alphabetic"}, "encoding": {"text": {"field": "l"}}},
  {"data": {"name": "x"}, "transform": [{"filter": "datum.p=='a2' && datum.k=='vu'"}], "mark": {"type": "text", "fontSize": 20, "angle": 270, "align": "center", "baseline": "alphabetic"}, "encoding": {"text": {"field": "l"}}},
  {"data": {"name": "x"}, "transform": [{"filter": "datum.p=='a2' && datum.k=='big'"}], "mark": {"type": "text", "fontSize": 21, "fontWeight": "bold", "align": "center", "baseline": "middle"}, "encoding": {"text": {"field": "l"}}}
 ]
},
{
 "width": 667, "height": 340,
 "encoding": {
  "x": {"field": "t", "type": "quantitative", "scale": {"domain": [-1.815, 9.825], "nice": false, "zero": false}, "axis": null},
  "y": {"field": "v", "type": "quantitative", "scale": {"domain": [-14.56, 39.41], "nice": false, "zero": false},
        "axis": {"title": null, "values": [0, 10, 20, 30], "offset": -30, "tickSize": 11, "tickWidth": 1.5, "labelPadding": -29, "labelAlign": "left", "labelFontSize": 18}}
 },
 "layer": [
  {"data": {"name": "r"}, "transform": [{"filter": "datum.p=='b1' && (datum.k=='ax' || datum.k=='bs')"}], "mark": {"type": "rule", "strokeWidth": 1.6, "color": "black"}, "encoding": {"x2": {"field": "t2"}, "y2": {"field": "v2"}}},
  {"data": {"name": "r"}, "transform": [{"filter": "datum.p=='b1' && datum.k=='th'"}], "mark": {"type": "rule", "strokeWidth": 1, "strokeDash": [2, 1.5], "color": "#555"}, "encoding": {"x2": {"field": "t2"}, "y2": {"field": "v2"}}},
  {"data": {"name": "r"}, "transform": [{"filter": "datum.p=='b1' && datum.k=='ar'"}], "mark": {"type": "rule", "strokeWidth": 1.3, "color": "black"}, "encoding": {"x2": {"field": "t2"}, "y2": {"field": "v2"}}},
  {"data": {"name": "h"}, "transform": [{"filter": "datum.p=='b1'"}], "mark": {"type": "point", "shape": "triangle-up", "filled": true, "size": 30, "color": "black", "opacity": 1}, "encoding": {"angle": {"field": "d", "type": "quantitative", "scale": null}}},
  {"data": {"name": "c"}, "transform": [{"filter": "datum.p=='b1' && datum.s=='d'"}], "mark": {"type": "line", "interpolate": "monotone", "strokeWidth": 3.2, "strokeDash": [0.1, 6], "strokeCap": "round", "color": "black"}, "encoding": {"detail": {"field": "g", "type": "nominal"}}},
  {"data": {"name": "c"}, "transform": [{"filter": "datum.p=='b1' && datum.s=='s'"}], "mark": {"type": "line", "interpolate": "monotone", "strokeWidth": 3, "color": "black"}, "encoding": {"detail": {"field": "g", "type": "nominal"}}},
  {"data": {"name": "x"}, "transform": [{"filter": "datum.p=='b1' && datum.k=='ser'"}], "mark": {"type": "text", "font": "Liberation Serif", "fontWeight": "bold", "fontSize": 21, "align": "center", "baseline": "middle"}, "encoding": {"text": {"field": "l"}}},
  {"data": {"name": "x"}, "transform": [{"filter": "datum.p=='b1' && datum.k=='tit'"}], "mark": {"type": "text", "fontSize": 24, "fontWeight": "bold", "align": "left", "baseline": "alphabetic"}, "encoding": {"text": {"field": "l"}}},
  {"data": {"name": "x"}, "transform": [{"filter": "datum.p=='b1' && datum.k=='uni'"}], "mark": {"type": "text", "fontSize": 20, "align": "left", "baseline": "alphabetic"}, "encoding": {"text": {"field": "l"}}},
  {"data": {"name": "x"}, "transform": [{"filter": "datum.p=='b1' && datum.k=='ann'"}], "mark": {"type": "text", "fontSize": 15, "fontWeight": "bold", "align": "center", "baseline": "middle"}, "encoding": {"text": {"field": "l"}}},
  {"data": {"name": "x"}, "transform": [{"filter": "datum.p=='b1' && datum.k=='sec'"}], "mark": {"type": "text", "fontSize": 18, "align": "center", "baseline": "middle"}, "encoding": {"text": {"field": "l"}}}
 ]
},
{
 "width": 667, "height": 250,
 "encoding": {
  "x": {"field": "t", "type": "quantitative", "scale": {"domain": [-1.815, 9.825], "nice": false, "zero": false}, "axis": null},
  "y": {"field": "v", "type": "quantitative", "scale": {"domain": [-58.93, 55.36], "nice": false, "zero": false},
        "axis": {"title": null, "values": [40, 20, 0, -20, -40], "labelExpr": "abs(datum.value)", "offset": -26.4, "tickSize": 8, "tickWidth": 1.5, "labelPadding": -34.6, "labelAlign": "center", "labelFontSize": 18}}
 },
 "layer": [
  {"data": {"name": "r"}, "transform": [{"filter": "datum.p=='b2' && (datum.k=='ax' || datum.k=='bs')"}], "mark": {"type": "rule", "strokeWidth": 1.6, "color": "black"}, "encoding": {"x2": {"field": "t2"}, "y2": {"field": "v2"}}},
  {"data": {"name": "r"}, "transform": [{"filter": "datum.p=='b2' && datum.k=='ar'"}], "mark": {"type": "rule", "strokeWidth": 1.3, "color": "black"}, "encoding": {"x2": {"field": "t2"}, "y2": {"field": "v2"}}},
  {"data": {"name": "h"}, "transform": [{"filter": "datum.p=='b2'"}], "mark": {"type": "point", "shape": "triangle-up", "filled": true, "size": 30, "color": "black", "opacity": 1}, "encoding": {"angle": {"field": "d", "type": "quantitative", "scale": null}}},
  {"data": {"name": "c"}, "transform": [{"filter": "datum.p=='b2' && datum.s=='d'"}], "mark": {"type": "line", "interpolate": "monotone", "strokeWidth": 3.2, "strokeDash": [0.1, 6], "strokeCap": "round", "color": "black"}, "encoding": {"detail": {"field": "g", "type": "nominal"}}},
  {"data": {"name": "c"}, "transform": [{"filter": "datum.p=='b2' && datum.s=='s'"}], "mark": {"type": "line", "interpolate": "monotone", "strokeWidth": 3, "color": "black"}, "encoding": {"detail": {"field": "g", "type": "nominal"}}},
  {"data": {"name": "x"}, "transform": [{"filter": "datum.p=='b2' && datum.k=='tit'"}], "mark": {"type": "text", "fontSize": 22, "fontWeight": "bold", "align": "left", "baseline": "alphabetic"}, "encoding": {"text": {"field": "l"}}},
  {"data": {"name": "x"}, "transform": [{"filter": "datum.p=='b2' && datum.k=='uni'"}], "mark": {"type": "text", "fontSize": 19, "align": "left", "baseline": "alphabetic"}, "encoding": {"text": {"field": "l"}}},
  {"data": {"name": "x"}, "transform": [{"filter": "datum.p=='b2' && datum.k=='ann'"}], "mark": {"type": "text", "fontSize": 15, "fontWeight": "bold", "align": "center", "baseline": "middle"}, "encoding": {"text": {"field": "l"}}},
  {"data": {"name": "x"}, "transform": [{"filter": "datum.p=='b2' && datum.k=='sec'"}], "mark": {"type": "text", "fontSize": 18, "align": "center", "baseline": "middle"}, "encoding": {"text": {"field": "l"}}}
 ]
},
{
 "width": 667, "height": 260,
 "encoding": {
  "x": {"field": "t", "type": "quantitative", "scale": {"domain": [-1.815, 9.825], "nice": false, "zero": false}, "axis": null},
  "y": {"field": "v", "type": "quantitative", "scale": {"domain": [-5.9, 38.55], "nice": false, "zero": false},
        "axis": {"title": null, "values": [0, 5, 10, 20, 30], "offset": -38.3, "tickSize": 10, "tickWidth": 1.5, "labelPadding": -24.7, "labelAlign": "left", "labelFontSize": {"condition": {"test": "datum.value == 5", "value": 13}, "value": 18}}}
 },
 "layer": [
  {"data": {"name": "r"}, "transform": [{"filter": "datum.p=='c1' && (datum.k=='ax' || datum.k=='bs')"}], "mark": {"type": "rule", "strokeWidth": 1.6, "color": "black"}, "encoding": {"x2": {"field": "t2"}, "y2": {"field": "v2"}}},
  {"data": {"name": "r"}, "transform": [{"filter": "datum.p=='c1' && datum.k=='th'"}], "mark": {"type": "rule", "strokeWidth": 1, "strokeDash": [2, 1.5], "color": "#555"}, "encoding": {"x2": {"field": "t2"}, "y2": {"field": "v2"}}},
  {"data": {"name": "r"}, "transform": [{"filter": "datum.p=='c1' && datum.k=='ar'"}], "mark": {"type": "rule", "strokeWidth": 1.3, "color": "black"}, "encoding": {"x2": {"field": "t2"}, "y2": {"field": "v2"}}},
  {"data": {"name": "h"}, "transform": [{"filter": "datum.p=='c1'"}], "mark": {"type": "point", "shape": "triangle-up", "filled": true, "size": 30, "color": "black", "opacity": 1}, "encoding": {"angle": {"field": "d", "type": "quantitative", "scale": null}}},
  {"data": {"name": "c"}, "transform": [{"filter": "datum.p=='c1' && datum.s=='d'"}], "mark": {"type": "line", "interpolate": "monotone", "strokeWidth": 3.2, "strokeDash": [0.1, 6], "strokeCap": "round", "color": "black"}, "encoding": {"detail": {"field": "g", "type": "nominal"}}},
  {"data": {"name": "c"}, "transform": [{"filter": "datum.p=='c1' && datum.s=='s'"}], "mark": {"type": "line", "interpolate": "monotone", "strokeWidth": 3, "color": "black"}, "encoding": {"detail": {"field": "g", "type": "nominal"}}},
  {"data": {"name": "x"}, "transform": [{"filter": "datum.p=='c1' && datum.k=='ser'"}], "mark": {"type": "text", "font": "Liberation Serif", "fontWeight": "bold", "fontSize": 22, "align": "center", "baseline": "middle"}, "encoding": {"text": {"field": "l"}}},
  {"data": {"name": "x"}, "transform": [{"filter": "datum.p=='c1' && datum.k=='tit'"}], "mark": {"type": "text", "fontSize": 24, "fontWeight": "bold", "align": "left", "baseline": "alphabetic"}, "encoding": {"text": {"field": "l"}}},
  {"data": {"name": "x"}, "transform": [{"filter": "datum.p=='c1' && datum.k=='uni'"}], "mark": {"type": "text", "fontSize": 15, "align": "left", "baseline": "alphabetic"}, "encoding": {"text": {"field": "l"}}},
  {"data": {"name": "x"}, "transform": [{"filter": "datum.p=='c1' && datum.k=='ann'"}], "mark": {"type": "text", "fontSize": 15.5, "fontWeight": "bold", "align": "center", "baseline": "middle"}, "encoding": {"text": {"field": "l"}}},
  {"data": {"name": "x"}, "transform": [{"filter": "datum.p=='c1' && datum.k=='sec'"}], "mark": {"type": "text", "fontSize": 18, "align": "center", "baseline": "middle"}, "encoding": {"text": {"field": "l"}}}
 ]
},
{
 "width": 667, "height": 276,
 "encoding": {
  "x": {"field": "t", "type": "quantitative", "scale": {"domain": [-1.815, 9.825], "nice": false, "zero": false}, "axis": null},
  "y": {"field": "v", "type": "quantitative", "scale": {"domain": [-48.23, 77.23], "nice": false, "zero": false},
        "axis": {"title": null, "values": [40, 20, 0, -20, -40], "labelExpr": "abs(datum.value)", "offset": -23.4, "tickSize": 7, "tickWidth": 1.5, "labelPadding": -32.1, "labelAlign": "center", "labelFontSize": 18}}
 },
 "layer": [
  {"data": {"name": "r"}, "transform": [{"filter": "datum.p=='c2' && (datum.k=='ax' || datum.k=='bs')"}], "mark": {"type": "rule", "strokeWidth": 1.6, "color": "black"}, "encoding": {"x2": {"field": "t2"}, "y2": {"field": "v2"}}},
  {"data": {"name": "r"}, "transform": [{"filter": "datum.p=='c2' && datum.k=='ar'"}], "mark": {"type": "rule", "strokeWidth": 1.3, "color": "black"}, "encoding": {"x2": {"field": "t2"}, "y2": {"field": "v2"}}},
  {"data": {"name": "h"}, "transform": [{"filter": "datum.p=='c2'"}], "mark": {"type": "point", "shape": "triangle-up", "filled": true, "size": 30, "color": "black", "opacity": 1}, "encoding": {"angle": {"field": "d", "type": "quantitative", "scale": null}}},
  {"data": {"name": "c"}, "transform": [{"filter": "datum.p=='c2' && datum.s=='d'"}], "mark": {"type": "line", "interpolate": "monotone", "strokeWidth": 3.2, "strokeDash": [0.1, 5.5], "strokeCap": "round", "color": "black"}, "encoding": {"detail": {"field": "g", "type": "nominal"}}},
  {"data": {"name": "c"}, "transform": [{"filter": "datum.p=='c2' && datum.s=='s'"}], "mark": {"type": "line", "interpolate": "monotone", "strokeWidth": 3, "color": "black"}, "encoding": {"detail": {"field": "g", "type": "nominal"}}},
  {"data": {"name": "x"}, "transform": [{"filter": "datum.p=='c2' && datum.k=='tit'"}], "mark": {"type": "text", "fontSize": 25, "fontWeight": "bold", "align": "left", "baseline": "alphabetic"}, "encoding": {"text": {"field": "l"}}},
  {"data": {"name": "x"}, "transform": [{"filter": "datum.p=='c2' && datum.k=='uni'"}], "mark": {"type": "text", "fontSize": 15, "align": "left", "baseline": "alphabetic"}, "encoding": {"text": {"field": "l"}}},
  {"data": {"name": "x"}, "transform": [{"filter": "datum.p=='c2' && datum.k=='ann'"}], "mark": {"type": "text", "fontSize": 15, "fontWeight": "bold", "align": "center", "baseline": "middle"}, "encoding": {"text": {"field": "l"}}},
  {"data": {"name": "x"}, "transform": [{"filter": "datum.p=='c2' && datum.k=='sec'"}], "mark": {"type": "text", "fontSize": 18, "align": "center", "baseline": "middle"}, "encoding": {"text": {"field": "l"}}}
 ]
}
]
}
